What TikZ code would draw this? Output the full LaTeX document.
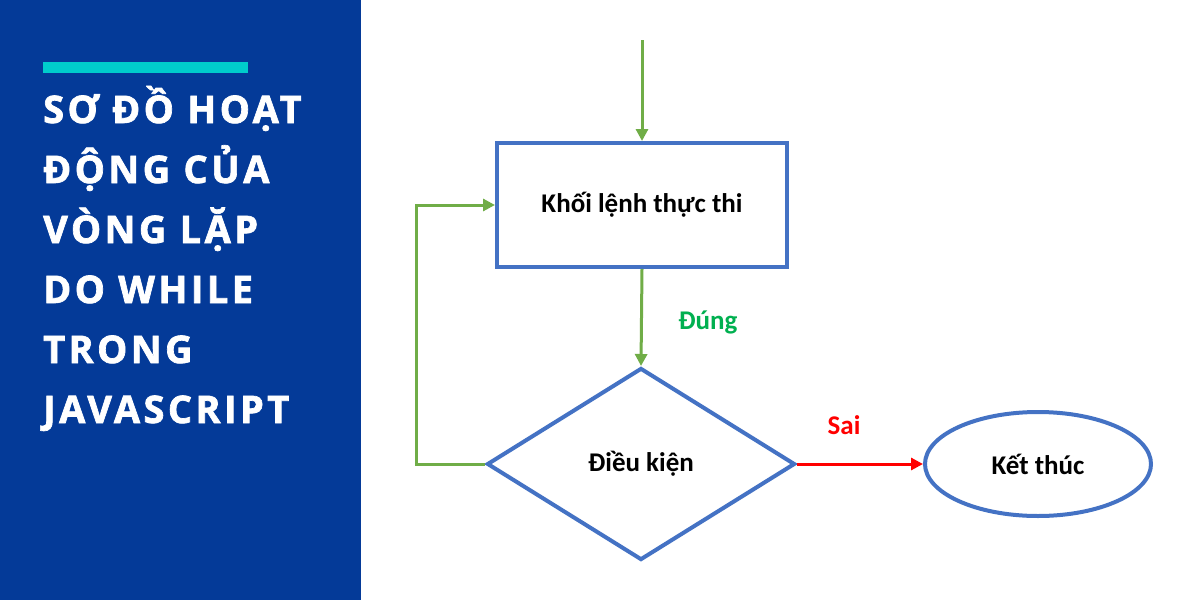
\documentclass[tikz,border=0pt]{standalone}
\usepackage{fontspec}
\usepackage{tikz}
\usetikzlibrary{shapes.geometric, arrows.meta}
\newfontfamily\titlefont[UprightFont=* Bold, FakeBold=1.8, LetterSpace=9]{Open Sans}
\newfontfamily\cali{Carlito}
\definecolor{panelblue}{RGB}{4,58,152}
\definecolor{barcyan}{RGB}{0,204,204}
\definecolor{boxblue}{RGB}{68,114,196}
\definecolor{linegreen}{RGB}{112,173,71}
\definecolor{textgreen}{RGB}{0,176,80}

\begin{document}
\begin{tikzpicture}[x=1pt, y=-1pt,
        titel/.style={anchor=base west, text=white, inner sep=0pt, font=\titlefont\fontsize{38}{38}\selectfont},
        shape line/.style={draw=boxblue, line width=4pt, font=\cali\bfseries\fontsize{27}{27}\selectfont},
        flow/.style={draw=linegreen, line width=3pt, -{Triangle[length=12pt,width=12pt]}}]
        \useasboundingbox (0,0) rectangle (1200,600);
        \fill[white] (0,0) rectangle (1200,600);
        \fill[panelblue] (0,0) rectangle (361,600);
        \fill[barcyan] (43,62) rectangle (248,73);
        \node[titel] (t1) at (43,123) {SƠ ĐỒ HOẠT};
        \node[titel] (t2) at (43,183) {ĐỘNG CỦA};
        \node[titel] (t3) at (43,243) {VÒNG LẶP};
        \node[titel] (t4) at (43,303) {DO WHILE};
        \node[titel] (t5) at (43,363) {TRONG};
        \node[titel] (t6) at (43,423) {JAVASCRIPT};
        \node[shape line, rectangle, minimum width=290pt, minimum height=124pt] (khoi) at (642,205) {Khối lệnh thực thi};
        \node[shape line, diamond, minimum width=308pt, minimum height=192pt, inner sep=0pt] (dieukien) at (641,464) {Điều kiện};
        \node[shape line, ellipse, minimum width=226pt, minimum height=104pt] (ketthuc) at (1038,464) {Kết thúc};
        \coordinate (start) at (642,40);
        \coordinate (vong) at (416,464);
        \draw[flow] (start) -- (khoi.north);
        \draw[flow] (khoi.south) -- (dieukien.north);
        \draw[flow] (dieukien.west) -- (vong) |- (khoi.west);
        \draw[flow, draw=red] (dieukien.east) -- (ketthuc.west);
        \node[text=textgreen, font=\cali\bfseries\fontsize{27}{27}\selectfont] (dung) at (708,322) {Đúng};
        \node[text=red, font=\cali\bfseries\fontsize{27}{27}\selectfont] (sai) at (844,425) {Sai};
\end{tikzpicture}
\end{document}
